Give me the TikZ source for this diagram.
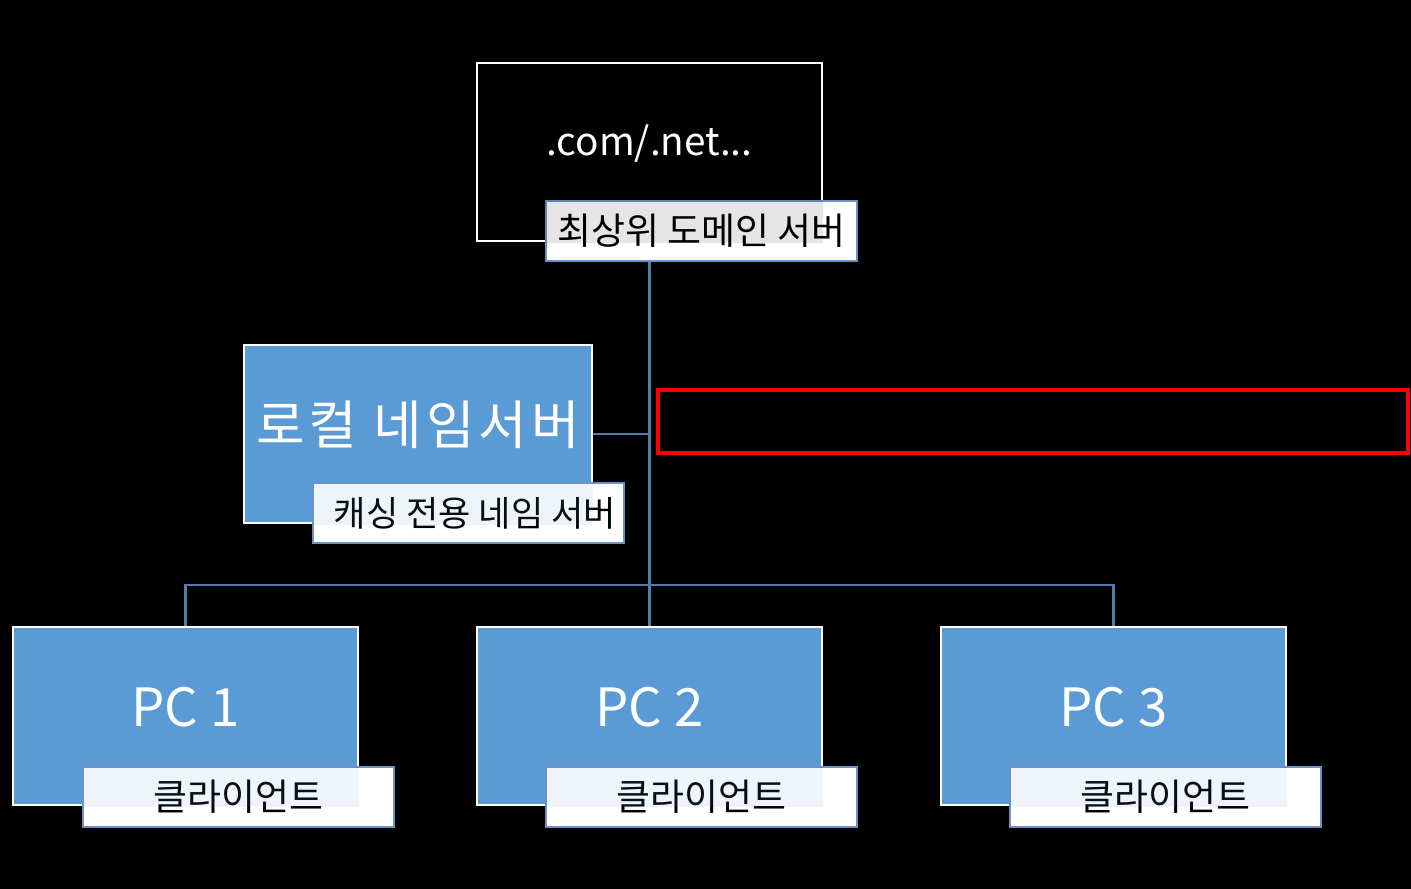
\documentclass[tikz,border=0pt]{standalone}
\usepackage{fontspec}
\setmainfont{Noto Sans CJK KR}
\usetikzlibrary{positioning}
\definecolor{boxblue}{HTML}{5B9BD5}
\definecolor{linkblue}{HTML}{4F7DB0}
\definecolor{tagline}{HTML}{6A93C4}
\tikzset{
  srvbox/.style={draw=white, line width=0.6pt, fill=boxblue, text=white,
    minimum width=3.45cm, minimum height=1.78cm, text height=6pt, text depth=0pt,
    font=\fontsize{15}{18}\selectfont},
  topbox/.style={srvbox, fill=black, text height=2pt, font=\fontsize{11}{14}\selectfont},
  tagbox/.style={draw=tagline, line width=0.6pt, fill=white, text=black, inner xsep=0pt,
    minimum width=3.11cm, minimum height=0.6cm, anchor=north west,
    font=\fontsize{10.5}{13}\selectfont},
  link/.style={draw=linkblue, line width=0.7pt}
}

\begin{document}
\begin{tikzpicture}[x=1cm, y=-1cm]
  % background
  \fill[black] (0,0) rectangle (14.11,8.89);

  % boxes
  \node[topbox] (top) at (6.495,1.52) {.com/.net...};
  \node[srvbox, minimum width=3.46cm] (local) at (4.18,4.34) {\addfontfeature{LetterSpace=8}로컬 네임서버};
  \node[srvbox] (pc1) at (1.855,7.16) {PC 1};
  \node[srvbox] (pc2) at (6.495,7.16) {PC 2};
  \node[srvbox] (pc3) at (11.135,7.16) {PC 3};
  \node[draw=red, line width=1.2pt, minimum width=7.5cm, minimum height=0.63cm] (note) at (10.33,4.215) {};

  % connectors
  \coordinate (bus) at (6.495,5.85);
  \draw[link] (top.south) -- (pc2.north);
  \draw[link] (local.east) -- (local.east -| pc2.north);
  \draw[link] (pc1.north) |- (bus) -| (pc3.north);

  % tags
  \node[tagbox] (toptag) at ([shift={(0.69,-0.42)}]top.south west) {최상위 도메인 서버};
  \node[tagbox, font=\fontsize{10}{13}\selectfont] (localtag) at ([shift={(0.69,-0.42)}]local.south west) {\hspace{0.12cm}캐싱 전용 네임 서버};
  \node[tagbox] (pc1tag) at ([shift={(0.70,-0.40)}]pc1.south west) {클라이언트};
  \node[tagbox] (pc2tag) at ([shift={(0.69,-0.40)}]pc2.south west) {클라이언트};
  \node[tagbox] (pc3tag) at ([shift={(0.69,-0.40)}]pc3.south west) {클라이언트};

  % tint where tags lie over their boxes
  \begin{scope}
    \clip (top.south west) rectangle (top.north east);
    \fill[black, opacity=0.1] (toptag.south west) rectangle (toptag.north east);
  \end{scope}
  \begin{scope}
    \clip (local.south west) rectangle (local.north east);
    \fill[boxblue, opacity=0.1] (localtag.south west) rectangle (localtag.north east);
  \end{scope}
  \begin{scope}
    \clip (pc1.south west) rectangle (pc1.north east);
    \fill[boxblue, opacity=0.1] (pc1tag.south west) rectangle (pc1tag.north east);
  \end{scope}
  \begin{scope}
    \clip (pc2.south west) rectangle (pc2.north east);
    \fill[boxblue, opacity=0.1] (pc2tag.south west) rectangle (pc2tag.north east);
  \end{scope}
  \begin{scope}
    \clip (pc3.south west) rectangle (pc3.north east);
    \fill[boxblue, opacity=0.1] (pc3tag.south west) rectangle (pc3tag.north east);
  \end{scope}
\end{tikzpicture}
\end{document}
